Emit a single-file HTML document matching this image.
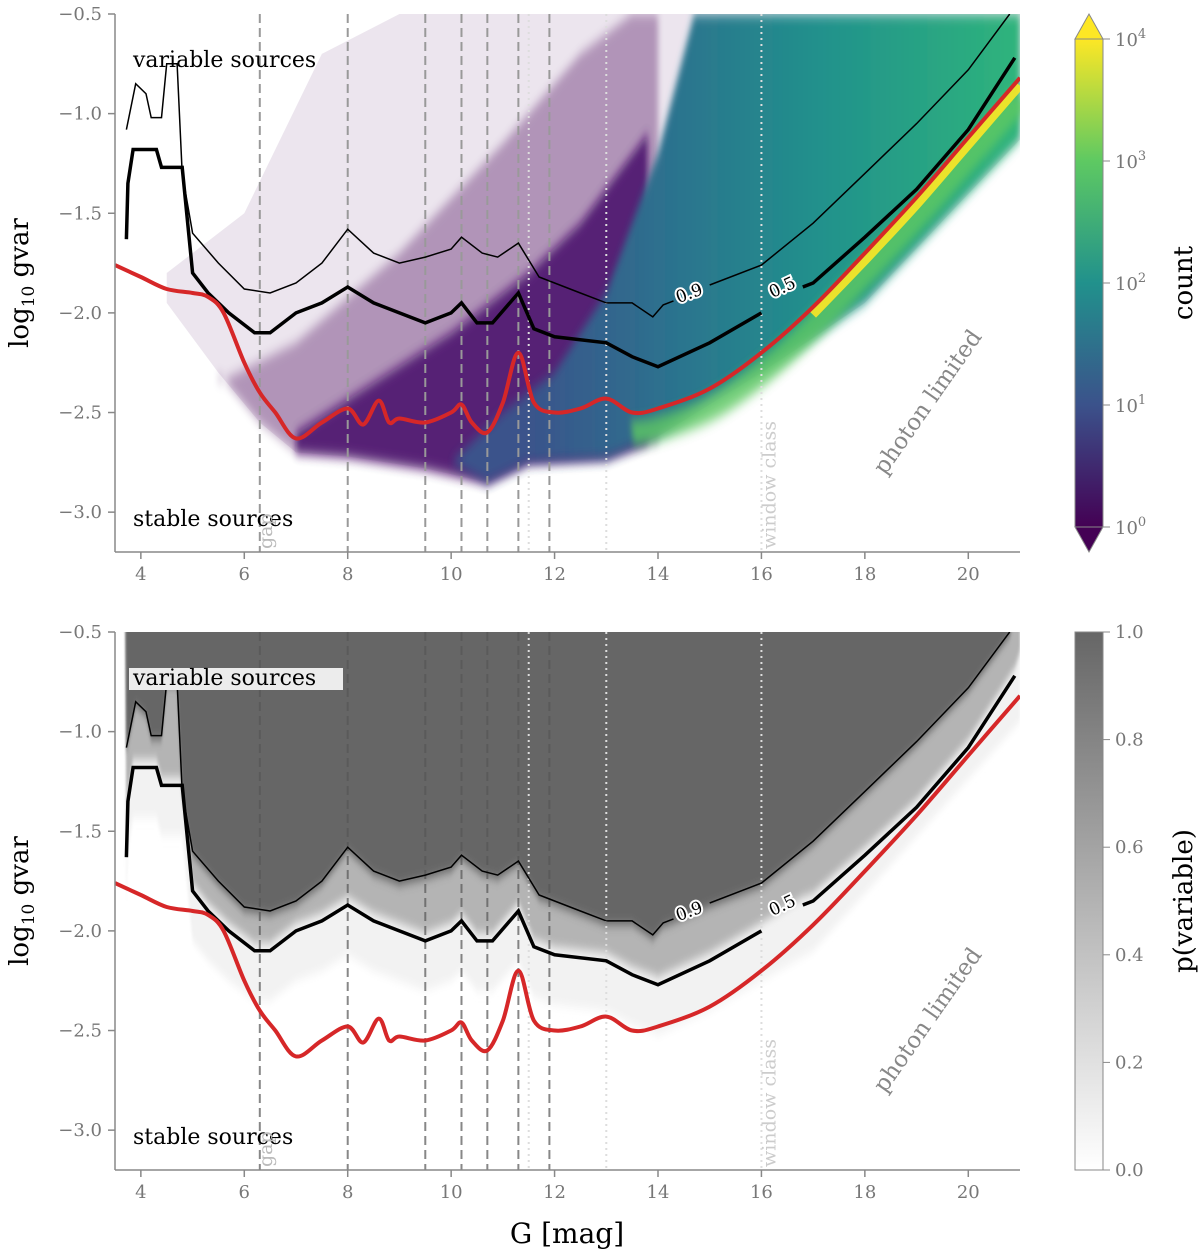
<!DOCTYPE html>
<html><head><meta charset="utf-8"><style>
body{margin:0;background:#fff}
svg text{font-family:"DejaVu Serif","Liberation Serif",serif}
</style></head><body>
<svg id="s" width="1200" height="1255" xmlns="http://www.w3.org/2000/svg">
<defs>
<linearGradient id="vir" x1="0" y1="1" x2="0" y2="0">
<stop offset="0" stop-color="#440154"/><stop offset="0.25" stop-color="#3b528b"/><stop offset="0.5" stop-color="#21918c"/><stop offset="0.75" stop-color="#5ec962"/><stop offset="1" stop-color="#fde725"/></linearGradient>
<linearGradient id="gry" x1="0" y1="1" x2="0" y2="0"><stop offset="0" stop-color="#fff"/><stop offset="1" stop-color="#666"/></linearGradient>
<linearGradient id="dens" gradientUnits="userSpaceOnUse" x1="520" y1="0" x2="1020" y2="0">
<stop offset="0" stop-color="#3b528b"/><stop offset="0.3" stop-color="#2c728e"/><stop offset="0.6" stop-color="#21918c"/><stop offset="1" stop-color="#2fb47c"/></linearGradient>
<filter id="blr" x="-0.1" y="-0.2" width="1.2" height="1.4"><feGaussianBlur stdDeviation="1 5"/></filter>
<filter id="blr2" x="-0.1" y="-0.2" width="1.2" height="1.4"><feGaussianBlur stdDeviation="3 6"/></filter>
</defs>
</svg>
<script>
const redG=[3.5,4,4.5,5,5.3,5.6,6,6.3,6.6,7,7.5,8,8.3,8.6,8.8,9,9.5,10,10.2,10.4,10.7,11,11.3,11.6,12,12.5,13,13.5,14,15,16,17,18,19,20,21];
const redV=[-1.76,-1.82,-1.88,-1.9,-1.92,-2.0,-2.25,-2.4,-2.5,-2.63,-2.55,-2.48,-2.56,-2.44,-2.55,-2.53,-2.55,-2.5,-2.46,-2.55,-2.6,-2.45,-2.2,-2.45,-2.5,-2.48,-2.43,-2.5,-2.48,-2.38,-2.2,-1.97,-1.7,-1.42,-1.12,-0.82];
const c5G=[3.72,3.75,3.85,4.3,4.4,4.8,5.0,5.3,5.7,6.2,6.5,7,7.5,8,8.5,9,9.5,10,10.2,10.5,10.8,11.3,11.6,12,13,13.5,14,15,16];
const c5V=[-1.63,-1.35,-1.18,-1.18,-1.27,-1.27,-1.8,-1.9,-2.0,-2.1,-2.1,-2.0,-1.95,-1.87,-1.95,-2.0,-2.05,-2.0,-1.95,-2.05,-2.05,-1.9,-2.08,-2.12,-2.15,-2.22,-2.27,-2.15,-2.0];
const c5bG=[16.8,17,18,19,20,20.9];
const c5bV=[-1.87,-1.85,-1.62,-1.38,-1.08,-0.72];
const c9G=[3.72,3.9,4.1,4.2,4.4,4.5,4.7,4.8,5.0,5.5,6,6.5,7,7.5,8,8.5,9,9.5,10,10.2,10.6,10.9,11.3,11.7,12,12.5,13,13.5,13.9,14.1,14.3];
const c9V=[-1.08,-0.85,-0.9,-1.02,-1.02,-0.75,-0.75,-1.3,-1.6,-1.75,-1.88,-1.9,-1.85,-1.75,-1.58,-1.7,-1.75,-1.72,-1.68,-1.62,-1.7,-1.72,-1.65,-1.82,-1.85,-1.9,-1.95,-1.95,-2.02,-1.96,-1.94];
const c9bG=[15.0,16,17,18,19,20,20.8];
const c9bV=[-1.86,-1.76,-1.55,-1.3,-1.05,-0.78,-0.5];
const lowG=[4.5,5.5,6.3,7,8,9.5,10.7,11.5,13,14,16,18,21];
const lowV=[-1.95,-2.3,-2.55,-2.7,-2.72,-2.78,-2.85,-2.75,-2.73,-2.62,-2.3,-1.95,-1.13];
const dashG=[6.3,8,9.5,10.2,10.7,11.3,11.9];
const dotG=[11.5,13,16];
const xTicks=[4,6,8,10,12,14,16,18,20];
const yTicks=[-0.5,-1.0,-1.5,-2.0,-2.5,-3.0];
const cbTop=[0,1,2,3,4];
const cbBot=[0,0.2,0.4,0.6,0.8,1.0];

const S=document.getElementById('s');const NS='http://www.w3.org/2000/svg';
function mk(t,a,p){const e=document.createElementNS(NS,t);for(const k in a)e.setAttribute(k,a[k]);(p||S).appendChild(e);return e;}
const X0=115,X1=1020;
const xs=g=>X0+(g-3.5)/17.5*(X1-X0);
function smooth(P){let d='M'+P[0][0]+','+P[0][1];for(let i=0;i<P.length-1;i++){const p0=P[Math.max(0,i-1)],p1=P[i],p2=P[i+1],p3=P[Math.min(P.length-1,i+2)];
d+=' C'+(p1[0]+(p2[0]-p0[0])/6).toFixed(1)+','+(p1[1]+(p2[1]-p0[1])/6).toFixed(1)+' '+(p2[0]-(p3[0]-p1[0])/6).toFixed(1)+','+(p2[1]-(p3[1]-p1[1])/6).toFixed(1)+' '+p2[0].toFixed(1)+','+p2[1].toFixed(1);}return d;}
function panel(T,top){
 const ys=v=>T+(-0.5-v)/2.7*538;
 const pl=(G,V)=>G.map((g,i)=>xs(g).toFixed(1)+','+ys(V[i]).toFixed(1)).join(' ');
 const rev=a=>a.slice().reverse();
 const g=mk('g',{});
 
 
 const clip=mk('clipPath',{id:'c'+T},g);mk('rect',{x:X0,y:T,width:X1-X0,height:538},clip);
 const pg=mk('g',{'clip-path':'url(#c'+T+')'},g);
 if(top){
  const sp=mk('polygon',{points:xs(4.5)+','+ys(-1.8)+' '+xs(6)+','+ys(-1.5)+' '+xs(7.5)+','+ys(-0.7)+' '+xs(9)+','+ys(-0.5)+' '+xs(21)+','+ys(-0.5)+' '+pl(rev(lowG),rev(lowV)),fill:'#440154',opacity:0.1},pg);
  
  const mp=mk('polygon',{points:xs(5.5)+','+ys(-2.35)+' '+xs(7)+','+ys(-2.15)+' '+xs(9)+','+ys(-1.7)+' '+xs(11)+','+ys(-1.15)+' '+xs(12.5)+','+ys(-0.7)+' '+xs(13.5)+','+ys(-0.5)+' '+xs(14)+','+ys(-0.5)+' '+xs(14)+','+ys(-2.65)+' '+pl(rev(lowG.slice(1,9)),rev(lowV.slice(1,9))),fill:'#440154',opacity:0.35,filter:'url(#blr2)'},pg);
  
  const dp=mk('polygon',{points:xs(7)+','+ys(-2.6)+' '+xs(8.5)+','+ys(-2.35)+' '+xs(10)+','+ys(-2.1)+' '+xs(11.5)+','+ys(-1.8)+' '+xs(12.5)+','+ys(-1.55)+' '+xs(13.8)+','+ys(-1.1)+' '+xs(13.8)+','+ys(-2.65)+' '+pl(rev(lowG.slice(3,9)),rev(lowV.slice(3,9))),fill:'#46086a',opacity:0.85,filter:'url(#blr2)'},pg);
  
  const tp=mk('polygon',{points:xs(10)+','+ys(-2.75)+' '+xs(11)+','+ys(-2.5)+' '+xs(12)+','+ys(-2.3)+' '+xs(13)+','+ys(-1.9)+' '+xs(14)+','+ys(-1.2)+' '+xs(14.7)+','+ys(-0.5)+' '+xs(21)+','+ys(-0.5)+' '+pl(rev(lowG.slice(6)),rev(lowV.slice(6))),fill:'url(#dens)',filter:'url(#blr2)'},pg);
  
  const gb=mk('path',{d:smooth(redG.slice(27).map((x,i)=>[xs(x),ys(redV[27+i]-0.1)])),fill:'none',stroke:'#5ec962','stroke-width':24,opacity:0.8,filter:'url(#blr2)'},pg);
  
  const yb=mk('path',{d:smooth(redG.slice(31).map((x,i)=>[xs(x),ys(redV[31+i]-0.04)])),fill:'none',stroke:'#fde725','stroke-width':8,opacity:0.9},pg);
  
 }else{
  const a=mk('polygon',{points:pl(c5G,c5V.map(v=>v-0.25))+' '+xs(17)+','+ys(-2.1)+' '+xs(21)+','+ys(-0.95)+' '+xs(21)+','+ys(-0.3)+' '+xs(3.7)+','+ys(-0.3),fill:'#f2f2f2',filter:'url(#blr)'},pg);
  
  const b=mk('polygon',{points:pl(c5G.concat(c5bG),c5V.concat(c5bV).map(v=>v+0.04))+' '+xs(21)+','+ys(-0.6)+' '+xs(21)+','+ys(-0.3)+' '+xs(3.7)+','+ys(-0.3),fill:'#b4b4b4',filter:'url(#blr)'},pg);
  
  const c=mk('polygon',{points:pl(c9G.concat(c9bG),c9V.concat(c9bV).map(v=>v-0.02))+' '+xs(21)+','+ys(-0.3)+' '+xs(3.7)+','+ys(-0.3),fill:'#666',filter:'url(#blr)'},pg);
  
 }
 dashG.forEach(d=>{const l=mk('line',{x1:xs(d),x2:xs(d),y1:T,y2:T+538,stroke:top?'#999':'#555','stroke-width':2,'stroke-dasharray':'9,5',opacity:top?1:0.7},pg);});
 dotG.forEach(d=>{const l=mk('line',{x1:xs(d),x2:xs(d),y1:T,y2:T+538,stroke:'#ddd','stroke-width':2,'stroke-dasharray':'2,4'},pg);});
 [[c9G,c9V,1.5],[c9bG,c9bV,1.5],[c5G,c5V,3.5],[c5bG,c5bV,3.5]].forEach(([G,V,w])=>{const l=mk('polyline',{points:pl(G,V),fill:'none',stroke:'#000','stroke-width':w},pg);});
 const r=mk('path',{d:smooth(redG.map((x,i)=>[xs(x),ys(redV[i])])),fill:'none',stroke:'#d62728','stroke-width':4},pg);
 
 [['0.9',14.6,-1.9,-20],['0.5',16.4,-1.87,-25]].forEach(([t,gx,v,a])=>{const e=mk('text',{x:xs(gx),y:ys(v)+6,'font-size':17,'text-anchor':'middle',fill:'#000',stroke:'#fff','stroke-width':4,'paint-order':'stroke',transform:`rotate(${a} ${xs(gx)} ${ys(v)})`},pg);e.textContent=t;});
 if(!top){const bb=mk('rect',{x:129,y:T+36,width:214,height:22,fill:'#ececec'},g);}
 const t1=mk('text',{x:133,y:T+53,'font-size':22,fill:'#000'},g);t1.textContent='variable sources';
 const t2=mk('text',{x:133,y:T+512,'font-size':22,fill:'#000'},g);t2.textContent='stable sources';
 [['gap',xs(6.3)+12,T+535,'#bbb'],['window class',xs(16)+14,T+535,'#ccc']].forEach(([t,x,y,c])=>{const e=mk('text',{x,y,'font-size':19,fill:c,transform:`rotate(-90 ${x} ${y})`},g);e.textContent=t;});
 const ph=mk('text',{x:885,y:T+462,'font-size':23,fill:'#888',transform:`rotate(-55 885 ${T+462})`},g);ph.textContent='photon limited';
 mk('line',{x1:X0,x2:X0,y1:T,y2:T+538,stroke:'#888','stroke-width':1.5},g);
 mk('line',{x1:X0,x2:X1,y1:T+538,y2:T+538,stroke:'#888','stroke-width':1.5},g);
 xTicks.forEach(v=>{mk('line',{x1:xs(v),x2:xs(v),y1:T+538,y2:T+545,stroke:'#888','stroke-width':1.5},g);const e=mk('text',{x:xs(v),y:T+566,'font-size':18,fill:'#777','text-anchor':'middle'},g);e.textContent=v;});
 yTicks.forEach(v=>{mk('line',{x1:X0-7,x2:X0,y1:ys(v),y2:ys(v),stroke:'#888','stroke-width':1.5},g);const e=mk('text',{x:X0-13,y:ys(v)+6,'font-size':18,fill:'#777','text-anchor':'end'},g);e.textContent='−'+Math.abs(v).toFixed(1);});
 const yt=mk('text',{x:28,y:T+269,'font-size':26,fill:'#000','text-anchor':'middle',transform:`rotate(-90 28 ${T+269})`},g);yt.innerHTML='log<tspan font-size="17" dy="6">10</tspan><tspan dy="-6"> gvar</tspan>';
}
panel(14,true);panel(632,false);
const xt=mk('text',{x:567,y:1243,'font-size':28,fill:'#000','text-anchor':'middle'});xt.textContent='G [mag]';


const cb=mk('g',{});


mk('rect',{x:1075,y:39,width:28,height:488,fill:'url(#vir)'},cb);
mk('polygon',{points:'1075,39 1089,14 1103,39',fill:'#fde725',stroke:'#888'},cb);
mk('polygon',{points:'1075,527 1089,552 1103,527',fill:'#440154',stroke:'#888'},cb);
mk('rect',{x:1075,y:39,width:28,height:488,fill:'none',stroke:'#888'},cb);
const cy=e=>527-e/4*488;
cbTop.forEach(e=>{mk('line',{x1:1103,x2:1110,y1:cy(e),y2:cy(e),stroke:'#888'},cb);const t=mk('text',{x:1115,y:cy(e)+7,'font-size':18,fill:'#777'},cb);t.innerHTML='10<tspan font-size="13" dy="-8">'+e+'</tspan>';});
const ct=mk('text',{x:1192,y:283,'font-size':26,fill:'#000','text-anchor':'middle',transform:'rotate(-90 1192 283)'});ct.textContent='count';


const cb2=mk('g',{});


mk('rect',{x:1075,y:632,width:28,height:538,fill:'url(#gry)',stroke:'#888'},cb2);
const cy2=p=>1170-p*538;
cbBot.forEach(p=>{mk('line',{x1:1103,x2:1110,y1:cy2(p),y2:cy2(p),stroke:'#888'},cb2);const t=mk('text',{x:1115,y:cy2(p)+6,'font-size':18,fill:'#777'},cb2);t.textContent=p.toFixed(1);});
const ct2=mk('text',{x:1192,y:901,'font-size':26,fill:'#000','text-anchor':'middle',transform:'rotate(-90 1192 901)'});ct2.textContent='p(variable)';


</script>
</body></html>
